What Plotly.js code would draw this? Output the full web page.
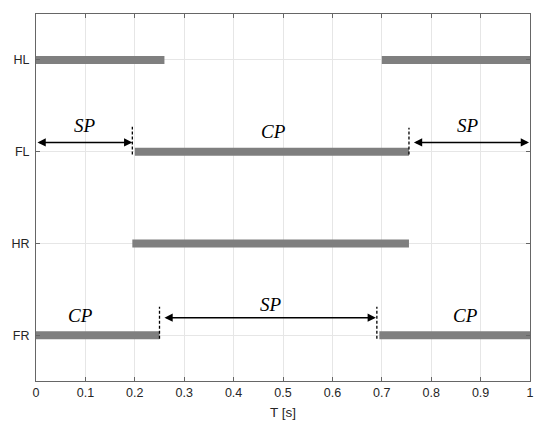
<!DOCTYPE html>
<html><head><meta charset="utf-8">
<script src="https://cdn.plot.ly/plotly-3.0.1.min.js"></script>
<style>body{margin:0;background:#fff}#c{width:550px;height:432px}</style>
</head><body><div id="c"></div>
<script>
// Categories (top to bottom) and their y positions
const legs = ["HL", "FL", "HR", "FR"];
const legY = [3.5, 2.5, 1.5, 0.5];
// Phase bars: [leg, start, end]
const barLeg   = ["HL", "HL", "FL", "HR", "FR", "FR"];
const barStart = [0.0, 0.70, 0.20, 0.195, 0.0, 0.695];
const barEnd   = [0.26, 1.0, 0.755, 0.755, 0.25, 1.0];
// Dashed markers: leg, x, y-from offset, y-to offset
const dashLeg = ["FL", "FL", "FR", "FR"];
const dashX   = [0.195, 0.755, 0.25, 0.69];
const dashLo  = [-0.03, -0.03, -0.04, -0.04];
const dashHi  = [0.27, 0.26, 0.31, 0.31];
// Double arrows: leg, x start, x end, y offset
const arrLeg = ["FL", "FL", "FR"];
const arrX0  = [0.0, 0.762, 0.257];
const arrX1  = [0.195, 0.998, 0.688];
const arrDy  = [0.10, 0.10, 0.19];
// Phase labels
const lblText = ["SP", "CP", "SP", "CP", "SP", "CP"];
const lblLeg  = ["FL", "FL", "FL", "FR", "FR", "FR"];
const lblX    = [0.10, 0.48, 0.875, 0.09, 0.475, 0.87];
const lblDy   = [0.28, 0.22, 0.28, 0.21, 0.33, 0.21];
// Axis ticks
const xTicks = [0, 0.1, 0.2, 0.3, 0.4, 0.5, 0.6, 0.7, 0.8, 0.9, 1];
const xTickText = ["0", "0.1", "0.2", "0.3", "0.4", "0.5", "0.6", "0.7", "0.8", "0.9", "1"];

const yOf = l => legY[legs.indexOf(l)];
const traces = [];
for (let i = 0; i < barLeg.length; i++) {
  const y = yOf(barLeg[i]);
  traces.push({x: [barStart[i], barEnd[i]], y: [y, y], mode: "lines", type: "scatter",
    line: {color: "#7f7f7f", width: 8}, hoverinfo: "skip", showlegend: false});
}
for (let i = 0; i < dashLeg.length; i++) {
  const y = yOf(dashLeg[i]);
  traces.push({x: [dashX[i], dashX[i]], y: [y + dashLo[i], y + dashHi[i]], mode: "lines", type: "scatter",
    line: {color: "#000", width: 1.3, dash: "3px,2px"}, hoverinfo: "skip", showlegend: false});
}
const annotations = [];
for (let i = 0; i < arrLeg.length; i++) {
  const y = yOf(arrLeg[i]) + arrDy[i];
  annotations.push({x: arrX1[i], y: y, ax: arrX0[i], ay: y, xref: "x", yref: "y", axref: "x", ayref: "y",
    text: "", showarrow: true, arrowhead: 2, startarrowhead: 2, arrowside: "end+start",
    arrowsize: 1.1, startarrowsize: 1.1, arrowwidth: 1.5, arrowcolor: "#000", standoff: 0, startstandoff: 0});
}
for (let i = 0; i < lblText.length; i++) {
  annotations.push({x: lblX[i], y: yOf(lblLeg[i]) + lblDy[i], xref: "x", yref: "y", showarrow: false,
    text: "<i>" + lblText[i] + "</i>", font: {family: "Liberation Serif, DejaVu Serif, serif", size: 19, color: "#000"}});
}
const layout = {
  width: 550, height: 432,
  margin: {l: 36, r: 20, t: 14, b: 51},
  paper_bgcolor: "#fff", plot_bgcolor: "#fff",
  font: {family: "Liberation Sans, Arial, sans-serif", size: 12, color: "#262626"},
  xaxis: {range: [0, 1], tickvals: xTicks, ticktext: xTickText, showgrid: true, gridcolor: "#e6e6e6",
    zeroline: false, showline: true, linecolor: "#666", linewidth: 1, mirror: "ticks",
    ticks: "inside", ticklen: 4, tickcolor: "#666", tickfont: {size: 12.5},
    title: {text: "T [s]", font: {size: 13.5, color: "#262626"}, standoff: 8}},
  yaxis: {range: [0, 4], tickvals: legY, ticktext: legs, showgrid: true, gridcolor: "#e6e6e6",
    zeroline: false, showline: true, linecolor: "#666", linewidth: 1, mirror: "ticks",
    ticks: "inside", ticklen: 4, tickcolor: "#666", tickfont: {size: 12.5}, ticklabelstandoff: 3},
  annotations: annotations
};
Plotly.newPlot("c", traces, layout, {displayModeBar: false, staticPlot: true});
</script></body></html>
